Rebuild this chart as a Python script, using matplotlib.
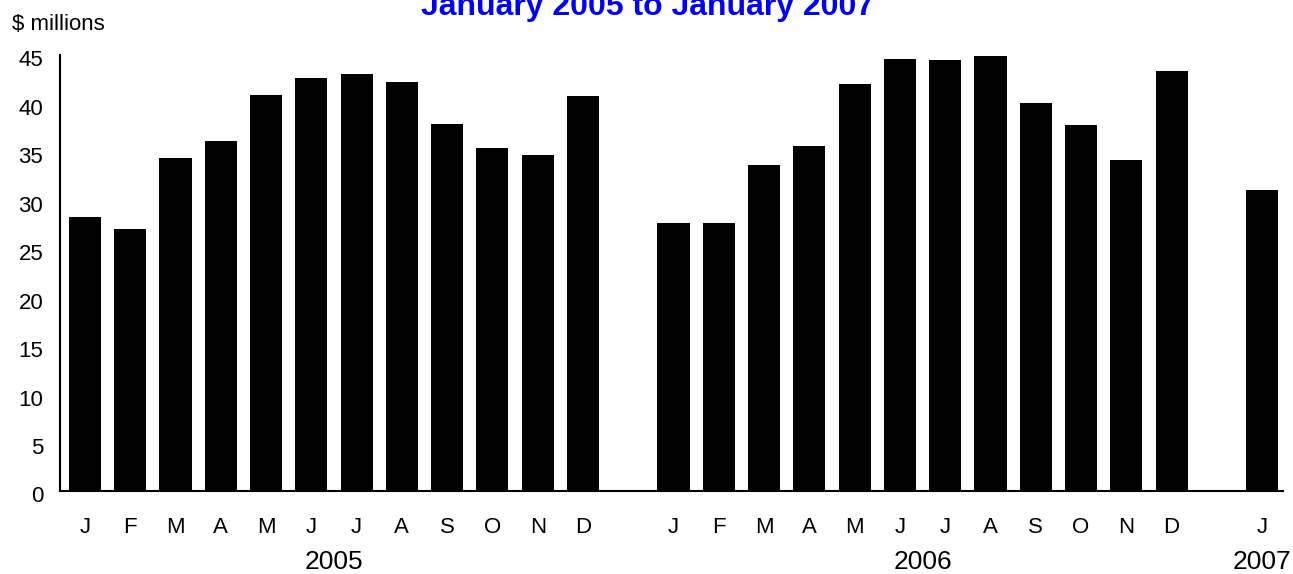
import matplotlib
matplotlib.use("Agg")
import matplotlib.pyplot as plt
from matplotlib.transforms import ScaledTranslation

plt.rcParams['font.family'] = ['Liberation Sans', 'DejaVu Sans']

months = ["J", "F", "M", "A", "M", "J", "J", "A", "S", "O", "N", "D"]
years = ["2005", "2006", "2007"]
values_2005 = [28.3, 27.0, 34.4, 36.1, 40.9, 42.6, 43.0, 42.2, 37.9, 35.4, 34.7, 40.8]
values_2006 = [27.7, 27.7, 33.6, 35.6, 42.0, 44.6, 44.5, 44.9, 40.0, 37.8, 34.2, 43.3]
values_2007 = [31.1]
yticks = [0, 5, 10, 15, 20, 25, 30, 35, 40, 45]

W, H = 1293, 574
fig = plt.figure(figsize=(W / 100, H / 100), dpi=100)
ax = fig.add_axes([60 / W, 1 - 491 / H, 1223 / W, 436 / H])

series = [values_2005, values_2006, values_2007]
start = 0
month_pos, month_lab, year_centers = [], [], []
for vals in series:
    pos = [start + i for i in range(len(vals))]
    ax.bar(pos, vals, width=0.71, color="black", edgecolor="none")
    month_pos += pos
    month_lab += months[:len(vals)]
    year_centers.append((pos[0] + pos[-1]) / 2)
    start += len(vals) + 1

ax.set_xlim(-0.55, 26.46)
ax.set_ylim(0, 45)
ax.set_yticks(yticks)
ax.set_yticklabels([str(v) for v in yticks], fontsize=16)
ax.tick_params(axis='y', length=0, pad=12)
shift = ScaledTranslation(0, -0.035, fig.dpi_scale_trans)
for lab in ax.get_yticklabels():
    lab.set_transform(lab.get_transform() + shift)
ax.set_xticks([])
for s in ["top", "right"]:
    ax.spines[s].set_visible(False)
for s in ["left", "bottom"]:
    ax.spines[s].set_linewidth(1.5)
    ax.spines[s].set_color("black")

tr = ax.get_xaxis_transform()
for p, lab in zip(month_pos, month_lab):
    ax.text(p, (491 - 533) / 436, lab, transform=tr, ha="center", va="baseline", fontsize=16)
for c, y in zip(year_centers, years):
    ax.text(c, (491 - 569) / 436, y, transform=tr, ha="center", va="baseline", fontsize=19)

fig.text(648 / W, 1 - 15 / H, "January 2005 to January 2007", ha="center", va="baseline",
         fontsize=23, fontweight="bold", color="#0000FF")
fig.text(12 / W, 1 - 30 / H, "$ millions", ha="left", va="baseline", fontsize=16)

fig.savefig("out.png", dpi=100)
